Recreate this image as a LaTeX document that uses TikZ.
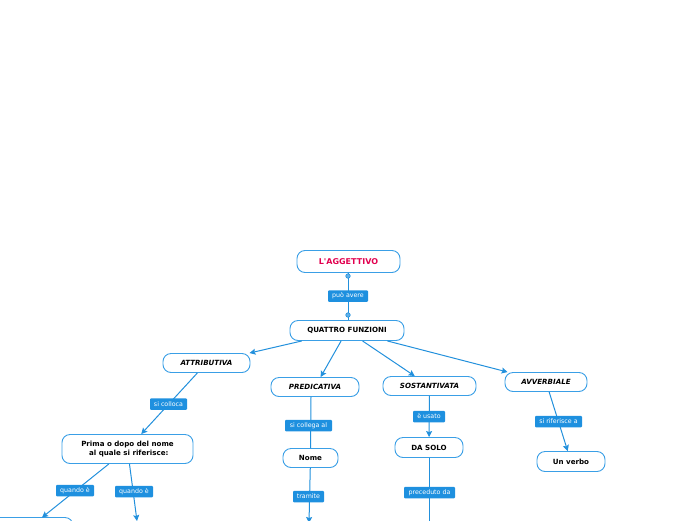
\documentclass[tikz,border=0pt]{standalone}
\usepackage{fontspec}
\setmainfont{DejaVu Sans}
\usetikzlibrary{arrows.meta}
\definecolor{bordc}{HTML}{3A9FE6}
\definecolor{linec}{HTML}{2290DC}
\definecolor{labc}{HTML}{1E90DF}
\definecolor{redc}{HTML}{E2004F}
\tikzset{
  topic/.style={draw=bordc, line width=0.9pt, rounded corners=8pt, fill=white,
    inner sep=0pt, align=center, font=\fontsize{7.1}{8.8}\selectfont\bfseries},
  topicit/.style={topic, font=\fontsize{7.1}{8.8}\selectfont\bfseries\itshape},
  lab/.style={fill=labc, text=white, rounded corners=1pt, inner sep=0pt,
    minimum height=11.5pt, font=\fontsize{6.3}{7}\selectfont},
  conn/.style={draw=linec, line width=1pt},
  arr/.style={conn, -{Stealth[length=6pt,width=6pt,inset=1pt]}},
  dotc/.style={circle, fill=labc!70!white, draw=linec, line width=0.6pt, inner sep=0pt, minimum size=4.5pt}
}
\begin{document}
\begin{tikzpicture}[x=1pt,y=-1pt]
\useasboundingbox (0,0) rectangle (696,520);
% topics
\node[topic, minimum width=103pt, minimum height=22pt, text=redc, font=\fontsize{8}{9}\selectfont\bfseries] (agg) at (348.5,261.5) {L\textquotesingle AGGETTIVO};
\node[topic, minimum width=114pt, minimum height=20pt] (quattro) at (347,330.5) {QUATTRO FUNZIONI};
\node[topicit, minimum width=87pt, minimum height=19pt] (attr) at (206.5,363) {ATTRIBUTIVA};
\node[topicit, minimum width=88pt, minimum height=19pt] (pred) at (315,387) {PREDICATIVA};
\node[topicit, minimum width=93pt, minimum height=19pt] (sost) at (429.5,386) {SOSTANTIVATA};
\node[topicit, minimum width=82pt, minimum height=19pt] (avv) at (546,382) {AVVERBIALE};
\node[topic, minimum width=131pt, minimum height=29pt] (prima) at (127.5,449) {Prima o dopo del nome\\[-0.5pt]\ al quale si riferisce:};
\node[topic, minimum width=55pt, minimum height=19pt] (nome) at (310.5,458) {Nome};
\node[topic, minimum width=68pt, minimum height=20pt] (dasolo) at (429,447.5) {DA SOLO};
\node[topic, minimum width=68pt, minimum height=20pt] (verbo) at (571,461.5) {Un verbo};
\node[topic, minimum width=140pt, minimum height=20pt] (bleft) at (3,527.5) {};
% free ends
\coordinate (blin) at (42,517.5);
\coordinate (qend) at (137,521);
\coordinate (tend) at (309,523);
\coordinate (pend) at (429,530);
\coordinate (d1) at (348,276);
\coordinate (d2) at (348,315);
% connectors
\draw[conn] (d1 |- agg.south) -- (d2 |- quattro.north);
\draw[arr] (quattro) -- (attr);
\draw[arr] (quattro) -- (pred);
\draw[arr] (quattro) -- (sost);
\draw[arr] (quattro) -- (avv);
\draw[arr] (attr) -- (prima);
\draw[conn] ([xshift=-4pt]pred.south) -- (nome.north);
\draw[arr] (sost) -- (dasolo);
\draw[arr] (avv) -- (verbo);
\draw[arr] (prima) -- (blin);
\draw[arr] (prima) -- (qend);
\draw[arr] (nome) -- (tend);
\draw[conn] (dasolo) -- (pend);
\node[dotc] (c1) at (d1) {};
\node[dotc] (c2) at (d2) {};
% labels
\node[lab, minimum width=40pt] (l1) at (348,296) {può avere};
\node[lab, minimum width=37pt] (l2) at (168.5,404) {si colloca};
\node[lab, minimum width=47pt] (l3) at (308.5,425.5) {si collega al};
\node[lab, minimum width=32pt] (l4) at (429,416.5) {è usato};
\node[lab, minimum width=47pt] (l5) at (558.5,421.5) {si riferisce a};
\node[lab, minimum width=38pt] (l6) at (75,490.5) {quando è};
\node[lab, minimum width=38pt] (l7) at (134,491.5) {quando è};
\node[lab, minimum width=31pt] (l8) at (308.5,496.5) {tramite};
\node[lab, minimum width=51pt] (l9) at (429.5,492.5) {preceduto da};
\end{tikzpicture}
\end{document}
